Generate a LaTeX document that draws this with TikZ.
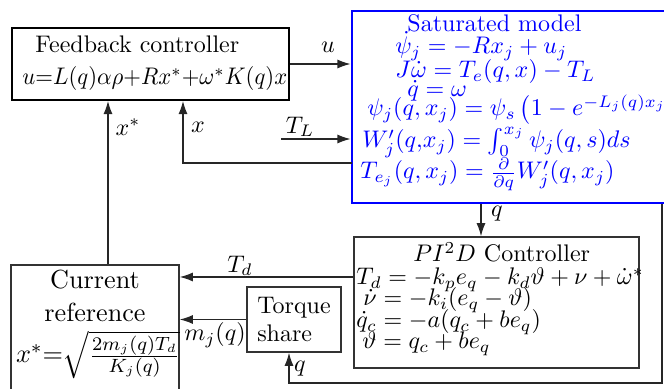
\documentclass[tikz,border=0pt]{standalone}
\usepackage{amsmath}
\usepackage{graphicx}
\usetikzlibrary{arrows.meta}
\newcommand{\pxu}{0.4167pt}
\tikzset{
  block/.style={draw=black!80, semithick, inner sep=0pt},
  main block/.style={draw=black, line width=0.8pt, inner sep=0pt},
  model block/.style={draw=blue, line width=1.2pt, inner sep=0pt},
  model text/.style={text=blue, inner sep=0pt, anchor=base west},
  eq text/.style={inner sep=0pt, anchor=base west},
  centre text/.style={inner sep=0pt, anchor=base},
  signal/.style={-{Latex[length=5.5pt,width=3.8pt]}, draw=black!85, line width=0.55pt},
  sig label/.style={inner sep=0pt},
}

\begin{document}
\begin{tikzpicture}[x=\pxu, y=-\pxu]
  \useasboundingbox (0,0) rectangle (664,389);
  \clip (0,0) rectangle (664,389);
  % blocks
  \node[main block, minimum width=277*\pxu, minimum height=72*\pxu] (fb) at (150.5,64) {};
  \node[model block, minimum width=388*\pxu, minimum height=192*\pxu] (sat) at (546,107) {};
  \node[block, minimum width=285*\pxu, minimum height=131*\pxu] (pid) at (496.5,302.5) {};
  \node[block, minimum width=94*\pxu, minimum height=65*\pxu, align=left] (ts) at (294,319.5) {Torque\\share};
  \node[block, minimum width=168*\pxu, minimum height=155*\pxu] (cr) at (95,342.5) {};

  % feedback controller
  \node[eq text] (fbtitle) at (35,53) {Feedback controller};
  \node[eq text] (fblaw) at (22,85) {\scalebox{0.945}[1]{$u{=}L(q)\alpha\rho{+}Rx^*{+}\omega^*K(q)x$}};

  % saturated model
  \node[model text] (smtitle) at (407,32) {Saturated model};
  \node[model text] (sm1) at (395,54) {$\dot\psi_j = -Rx_j + u_j$};
  \node[model text] (sm2) at (395,78) {$J\dot\omega = T_e(q,x) - T_L$};
  \node[model text] (sm3) at (407,97) {$\dot q = \omega$};
  \node[model text] (sm4) at (367,116) {$\psi_j(q,x_j) = \psi_s\left(1 - e^{-L_j(q)x_j}\right)$};
  \node[model text] (sm5) at (362,148) {$W_j'(q{,}x_j) = \int_0^{x_j}\psi_j(q,s)ds$};
  \node[model text] (sm6) at (360,179) {$T_{e_j}(q,x_j) = \frac{\partial}{\partial q}W_j'(q,x_j)$};

  % PI2D controller
  \node[eq text] (pidtitle) at (413,262) {$PI^2D$ Controller};
  \node[eq text] (pid1) at (356,285) {$T_d = -k_pe_q - k_d\vartheta + \nu + \dot\omega^*$};
  \node[eq text] (pid2) at (363,306) {$\dot\nu = -k_i(e_q - \vartheta)$};
  \node[eq text] (pid3) at (356,328) {$\dot q_c = -a(q_c + be_q)$};
  \node[eq text] (pid4) at (362,349) {$\vartheta = q_c + be_q$};

  % current reference
  \begin{scope}[font=\fontsize{10.9}{13}\selectfont]
    \node[centre text] (cr1) at (95,289) {Current};
    \node[centre text] (cr2) at (95,322) {reference};
    \node[centre text] (cr3) at (98,363) {$x^*{=}\sqrt{\frac{2m_j(q)T_d}{K_j(q)}}$};
  \end{scope}

  % signal points
  \coordinate (tlin) at (281,139);
  \coordinate (xtap) at (352,163);
  \coordinate (xfb) at (183,0);
  \coordinate (xsfb) at (108,0);
  \coordinate (qtap) at (481,0);
  \coordinate (tdy) at (0,277);
  \coordinate (loopx) at (662,0);
  \coordinate (loopy) at (0,383);
  \coordinate (qin) at (289,0);

  % connectors
  \draw[signal] (fb.east) -- (fb.east -| sat.west);
  \draw[signal] (tlin) -- (tlin -| sat.west);
  \draw[signal] (xtap) -| (xfb |- fb.south);
  \draw[signal] (xsfb |- cr.north) -- (xsfb |- fb.south);
  \draw[signal] (qtap |- sat.south) -- (qtap |- pid.north);
  \draw[signal] (pid.west |- tdy) -- (cr.east |- tdy);
  \draw[signal] (ts.west) -- (ts.west -| cr.east);
  \draw[signal] (loopx |- sat.south) |- (qin |- loopy) -- (qin |- ts.south);

  % labels
  \node[sig label] (ulab) at (328,47) {$u$};
  \node[sig label] (tllab) at (300,127) {$T_L$};
  \node[sig label] (xlab) at (198,127) {$x$};
  \node[sig label] (xslab) at (128,127) {$x^*$};
  \node[sig label] (tdlab) at (240,266) {$T_d$};
  \node[sig label] (mlab) at (215,335) {$m_j(q)$};
  \node[sig label] (qlab) at (300,369) {$q$};
  \node[sig label] (qtlab) at (497,214) {$q$};
\end{tikzpicture}
\end{document}
